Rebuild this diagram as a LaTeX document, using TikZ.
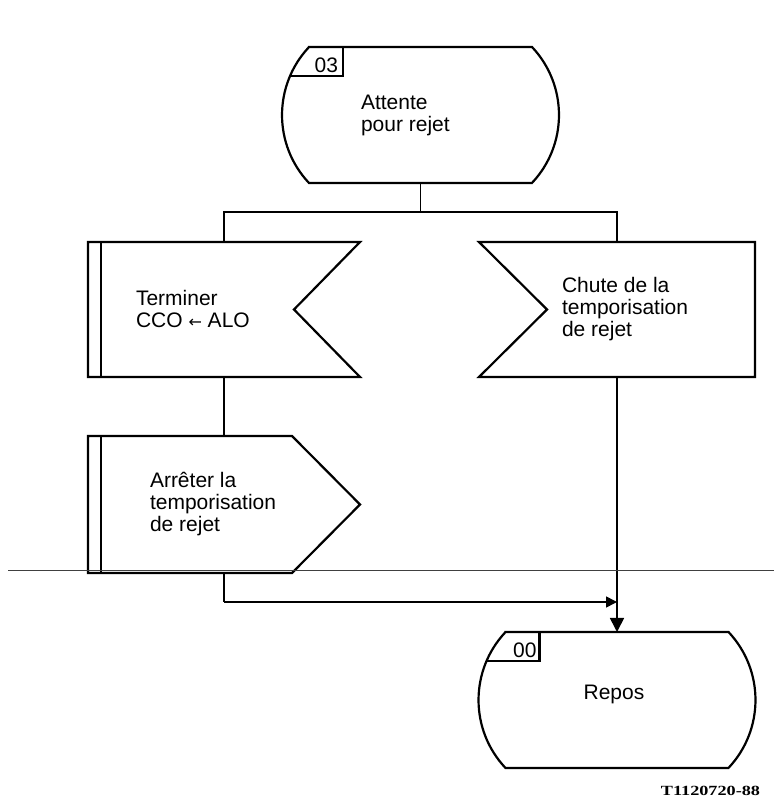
\documentclass[tikz,border=0pt]{standalone}
\usepackage{fontspec}
\setmainfont{Liberation Sans}
\newfontfamily\figfont[FakeStretch=1.3]{Liberation Serif}
\newfontfamily\symfont{DejaVu Sans}
\usetikzlibrary{
  arrows.meta,   % filled arrow tips
  calc,          % offsets from anchors
  positioning    % texts placed inside the symbols
}
\tikzset{
  every node/.style = {inner sep=0pt, outer sep=0pt},
  symbol/.style = {rectangle, draw=none, minimum height=135pt},
  state/.style = {symbol, minimum width=223pt, minimum height=136pt},
  input/.style = {symbol, minimum width=272pt},
  output/.style = {symbol, minimum width=272pt, minimum height=137pt},
  outline/.style = {line width=2.2pt, line join=miter},
  flow/.style = {line width=1.7pt},
  txt/.style = {align=left, font=\fontsize{21}{22}\selectfont},
  tag/.style = {font=\fontsize{21}{22}\selectfont},
  >={Triangle[length=11pt, width=11pt]}
}

% state symbol with its number box
\newcommand{\drawstate}[1]{%
  \draw[outline] (#1.north west) -- (#1.north east)
    arc[start angle=43.3, end angle=-43.3, radius=99.1pt] -- (#1.south west)
    arc[start angle=223.3, end angle=136.7, radius=99.1pt] -- cycle;
  \draw[outline] (#1.north west) ++(34,0) |- ++(-53,-29);
}
% priority input, notch on the right
\newcommand{\drawinleft}[1]{%
  \draw[outline] (#1.north west) -- (#1.north east) -- ($(#1.east)+(-66,0)$)
    -- (#1.south east) -- (#1.south west) -- cycle;
  \draw[outline] ($(#1.north west)+(13,0)$) -- ($(#1.south west)+(13,0)$);
}
% input, notch on the left
\newcommand{\drawinright}[1]{%
  \draw[outline] (#1.north west) -- ($(#1.west)+(68,0)$) -- (#1.south west)
    -- (#1.south east) -- (#1.north east) -- cycle;
}
% output
\newcommand{\drawoutput}[1]{%
  \draw[outline] (#1.north west) -- ($(#1.north east)+(-68,0)$) -- (#1.east)
    -- ($(#1.south east)+(-68,0)$) -- (#1.south west) -- cycle;
  \draw[outline] ($(#1.north west)+(13,0)$) -- ($(#1.south west)+(13,0)$);
}

\begin{document}
\begin{tikzpicture}[x=1pt, y=1pt]
\useasboundingbox (0,0) rectangle (774,803);

\node[state] (s03) at (420.5,688) {};
\node[txt, right=52pt of s03.west] (t-s03) {Attente\\pour rejet};
\node[tag, anchor=base east] (lab03) at ($(s03.north west)+(29,-26)$) {03};

\node[input] (term) at (224,493.5) {};
\node[txt, right=48pt of term.west] (t-term) {Terminer\\CCO {\symfont\fontsize{16}{16}\selectfont ←} ALO};
\node[input, minimum width=276pt] (chute) at (617,493.5) {};
\node[txt, right=83pt of chute.west] (t-chute) {Chute de la\\temporisation\\de rejet};
\node[output, below=59pt of term] (arret) {};
\node[txt, right=62pt of arret.west] (t-arret) {Arrêter la\\temporisation\\de rejet};

\node[state] (s00) at (617,103) {};
\node[txt] (t-s00) at ($(s00)+(-3,6)$) {Repos};
\node[tag, anchor=base east] (lab00) at ($(s00.north west)+(31,-26)$) {00};

\drawstate{s03}
\drawinleft{term}
\drawinright{chute}
\drawoutput{arret}
\drawstate{s00}

% connectors
\draw[flow] (s03.south) -- ++(0,-29) coordinate (split);
\draw[flow] (term.north) |- (split) -| (chute.north);
\draw[flow] (term.south) -- (arret.north);
\draw[flow] (arret.south) -- ++(0,-29) coordinate (bend);
\draw[flow, ->] (bend) -- (bend -| chute.south);
\draw[flow, -{Triangle[length=14pt, width=14pt]}] (chute.south) -- (s00.north);

% page line
\draw[line width=0.8pt, black!75] (8,233) -- (774,233);

\node[anchor=base east, font=\figfont\bfseries\fontsize{14}{14}\selectfont] (fig-id) at (760,7) {T1120720-88};
\end{tikzpicture}
\end{document}
